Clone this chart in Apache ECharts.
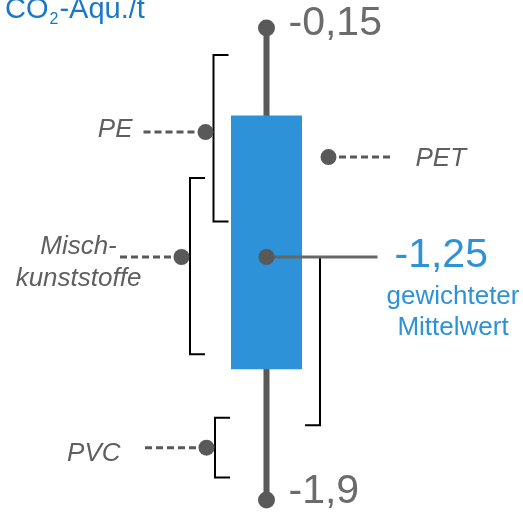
<!DOCTYPE html>
<html>
<head>
<meta charset="utf-8">
<script src="https://cdn.jsdelivr.net/npm/echarts@6/dist/echarts.min.js"></script>
<style>
  html, body { margin: 0; padding: 0; background: #ffffff; }
  #chart { width: 523px; height: 520px; }
</style>
</head>
<body>
<div id="chart"></div>
<script>
// Spread of CO2 equivalents per tonne for recycled plastics
const categories = ['Kunststoffe'];
const unitParts = ['CO', '2', '-Aqu./t'];   // unit with subscript
const rangeValues = [-0.15, -1.9];          // upper and lower end of the spread
const rangeLabels = ['-0,15', '-1,9'];
const boxValues = [-0.57, -1.55];           // central band
const meanValue = -1.25;
const meanLabel = '-1,25';
const meanCaption = 'gewichteter\nMittelwert';
const groupNames = ['PE', 'Misch-\nkunststoffe', 'PET', 'PVC'];
const groupPoints = [-0.65, -1.25, -0.77, -1.76];
const groupHigh = [-0.28, -0.87, -1.25, -1.68];
const groupLow = [-1.08, -1.51, -1.70, -1.84];

const FONT = '"Liberation Sans", Arial, sans-serif';
const GREY = '#595959';
const VALUE_GREY = '#6b6b6b';
const LABEL_GREY = '#5f5f5f';
const BLUE = '#2E92D8';
const TITLE_BLUE = '#1A78C8';

// Horizontal placement of the annotations, relative to the column centre
const groupLayout = [
  { bracketX: -53,   hook: 15,  dotX: -61, dashFrom: -123,   textX: -134, textDy: -2,  align: 'right',  topHook: true },
  { bracketX: -76.5, hook: 15,  dotX: -85, dashFrom: -146.5, textX: -188, textDy: 5.5, align: 'center', topHook: true },
  { bracketX: 53.5,  hook: -15, dotX: 62,  dashFrom: 123.5,  textX: 149,  textDy: 1.7, align: 'left',   topHook: false },
  { bracketX: -51.5, hook: 15,  dotX: -60, dashFrom: -121.5, textX: -146, textDy: 5.7, align: 'right',  topHook: true }
];
const rangeLabelDy = [-4.5, -8];

// The value axis is split at the weighted mean: grid 0 holds the upper part, grid 1 the lower part
function makeLayer(g) {
  const hi = g === 0 ? rangeValues[0] : meanValue;
  const lo = g === 0 ? meanValue : rangeValues[1];
  const owns = v => (g === 0 ? v >= meanValue : v < meanValue);
  return {
    type: 'custom',
    xAxisIndex: g,
    yAxisIndex: g,
    z: g === 0 ? 3 : 2,
    silent: true,
    data: [[0, meanValue]],
    renderItem(params, api) {
      const cat = api.value(0);
      const cx = api.coord([cat, hi])[0];
      const bw = api.size([1, 0])[0];
      const y = v => api.coord([cat, v])[1];
      const seg = (a, b) => {
        const t = Math.min(a, hi), u = Math.max(b, lo);
        return t > u ? [y(t), y(u)] : null;
      };
      const children = [];

      // whisker
      const w = seg(rangeValues[0], rangeValues[1]);
      if (w) children.push({ type: 'line', shape: { x1: cx, y1: w[0], x2: cx, y2: w[1] },
        style: { stroke: GREY, lineWidth: 6, lineCap: 'butt' } });

      // box
      const b = seg(boxValues[0], boxValues[1]);
      if (b) children.push({ type: 'rect', shape: { x: cx - bw / 2, y: b[0], width: bw, height: b[1] - b[0] },
        style: { fill: BLUE } });

      // brackets
      groupNames.forEach((name, i) => {
        const L = groupLayout[i];
        const s = seg(groupHigh[i], groupLow[i]);
        if (!s) return;
        const bx = cx + L.bracketX;
        const pts = [];
        if (L.topHook && owns(groupHigh[i])) pts.push([bx + L.hook, s[0]]);
        pts.push([bx, s[0]], [bx, s[1]]);
        if (owns(groupLow[i])) pts.push([bx + L.hook, s[1]]);
        children.push({ type: 'polyline', shape: { points: pts },
          style: { stroke: '#000000', lineWidth: 2, fill: null, lineJoin: 'miter', lineCap: 'butt' } });
      });

      // weighted mean
      if (owns(meanValue)) {
        const my = y(meanValue);
        children.push({ type: 'line', shape: { x1: cx, y1: my, x2: cx + 111, y2: my },
          style: { stroke: '#666666', lineWidth: 3 } });
        children.push({ type: 'circle', shape: { cx: cx, cy: my, r: 8 }, style: { fill: GREY } });
        children.push({ type: 'text', x: cx + 128, y: my - 1.5,
          style: { text: meanLabel, fill: BLUE, font: '41px ' + FONT, align: 'left', verticalAlign: 'middle' } });
        children.push({ type: 'text', x: cx + 186.5, y: my + 55,
          style: { text: meanCaption, fill: BLUE, font: '26px ' + FONT, lineHeight: 31,
            align: 'center', verticalAlign: 'middle' } });
      }

      // plastic groups: dot, dashed leader and name
      groupNames.forEach((name, i) => {
        const v = groupPoints[i];
        if (!owns(v)) return;
        const L = groupLayout[i];
        const py = y(v);
        children.push({ type: 'line', shape: { x1: cx + L.dashFrom, y1: py, x2: cx + L.dotX, y2: py },
          style: { stroke: GREY, lineWidth: 3, lineDash: [7, 4] } });
        children.push({ type: 'circle', shape: { cx: cx + L.dotX, cy: py, r: 8 }, style: { fill: GREY } });
        children.push({ type: 'text', x: cx + L.textX, y: py + L.textDy,
          style: { text: name, fill: LABEL_GREY, font: 'italic 26px ' + FONT, lineHeight: 31.6,
            align: L.align, verticalAlign: 'middle' } });
      });

      // ends of the spread
      rangeValues.forEach((v, i) => {
        if (!owns(v)) return;
        const ry = y(v);
        children.push({ type: 'circle', shape: { cx: cx, cy: ry, r: 8.5 }, style: { fill: GREY } });
        children.push({ type: 'text', x: cx + 22, y: ry + rangeLabelDy[i],
          style: { text: rangeLabels[i], fill: VALUE_GREY, font: '41px ' + FONT,
            align: 'left', verticalAlign: 'middle' } });
      });

      return { type: 'group', children: children };
    }
  };
}

// Unit title: main text, lowered subscript, main text
const mainFont = '29px ' + FONT;
const subFont = '16px ' + FONT;
const measure = document.createElement('canvas').getContext('2d');
measure.font = mainFont;
const w0 = measure.measureText(unitParts[0]).width;
measure.font = subFont;
const w1 = measure.measureText(unitParts[1]).width;
const titleX = 5;
const titleBaseline = 20;
const subBaseline = 25;
const titleGraphic = {
  type: 'group', silent: true,
  children: [
    { type: 'text', x: titleX, y: titleBaseline - 0.3465 * 29,
      style: { text: unitParts[0], fill: TITLE_BLUE, font: mainFont, verticalAlign: 'middle' } },
    { type: 'text', x: titleX + w0 + 1, y: subBaseline - 0.3465 * 16,
      style: { text: unitParts[1], fill: TITLE_BLUE, font: subFont, verticalAlign: 'middle' } },
    { type: 'text', x: titleX + w0 + w1 + 2, y: titleBaseline - 0.3465 * 29,
      style: { text: unitParts[2], fill: TITLE_BLUE, font: mainFont, verticalAlign: 'middle' } }
  ]
};

const chart = echarts.init(document.getElementById('chart'), null, { renderer: 'canvas' });
chart.setOption({
  animation: false,
  backgroundColor: '#ffffff',
  grid: [
    { left: 231, width: 71, top: 28, height: 229 },
    { left: 231, width: 71, top: 257, height: 243 }
  ],
  xAxis: [
    { type: 'category', gridIndex: 0, data: categories, show: false },
    { type: 'category', gridIndex: 1, data: categories, show: false }
  ],
  yAxis: [
    { type: 'value', gridIndex: 0, min: meanValue, max: rangeValues[0], show: false },
    { type: 'value', gridIndex: 1, min: rangeValues[1], max: meanValue, show: false }
  ],
  graphic: [titleGraphic],
  series: [makeLayer(0), makeLayer(1)]
});
</script>
</body>
</html>
